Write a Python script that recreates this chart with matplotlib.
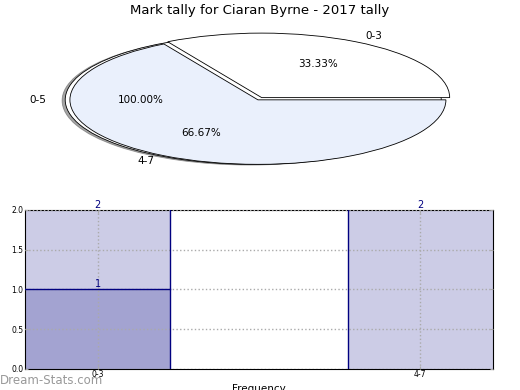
import numpy as np
import matplotlib
matplotlib.use('Agg')
import matplotlib.pyplot as plt

# data
title = 'Mark tally for Ciaran Byrne - 2017 tally'
back_labels = ['0-5']
back_values = [1]
pie_labels = ['0-3', '4-7']
pie_values = [1, 2]
bar_cats = ['0-3', '4-7']
bar_totals = [2, 2]
bar_counts = [1, 0]

fig = plt.figure(figsize=(5.2, 3.9), dpi=100)

# pie (squashed ellipse)
ax1 = fig.add_axes([0.026, 0.529, 0.94, 0.43])
ax1.pie(back_values, labels=back_labels, autopct='%.2f%%', colors=['white'],
        shadow=dict(ox=-0.012, oy=-0.008), startangle=0, center=(-0.025, 0),
        wedgeprops=dict(edgecolor='black', linewidth=0.6),
        textprops=dict(fontsize=7.5))
ax1.pie(pie_values, labels=pie_labels, autopct='%.2f%%', explode=[0.04, 0],
        colors=['white', '#eaf0fc'], startangle=0,
        wedgeprops=dict(edgecolor='black', linewidth=0.6),
        textprops=dict(fontsize=7.5))
ax1.set_aspect('auto')
ax1.set_xlim(-1.3, 1.3)
ax1.set_ylim(-1.3, 1.3)
ax1.axis('off')
fig.text(0.5, 0.973, title, ha='center', va='center', fontsize=9.5)

# bars
ax2 = fig.add_axes([0.048, 0.054, 0.9, 0.408])
x = np.arange(len(bar_cats))
ax2.bar(x, bar_totals, width=0.45, color='#ccccE6', edgecolor='none', zorder=1)
ax2.bar(x, bar_counts, width=0.45, color='#a3a3d1', edgecolor='none', zorder=2)
for xi, t, c in zip(x, bar_totals, bar_counts):
    ax2.text(xi, t, str(t), ha='center', va='bottom', color='#000080', fontsize=7)
    if c > 0:
        ax2.text(xi, c, str(c), ha='center', va='bottom', color='#000080', fontsize=7)
# navy outlines on the inner edges
ax2.plot([0.225, 0.225], [0, 2], color='#000080', lw=1, zorder=3)
ax2.plot([-0.225, 0.225], [1, 1], color='#000080', lw=1, zorder=3)
ax2.plot([0.775, 0.775], [0, 2], color='#000080', lw=1, zorder=3)
ax2.set_xlim(-0.225, 1.225)
ax2.set_ylim(0, 2)
ax2.set_xticks(x)
ax2.set_xticklabels(bar_cats)
ax2.set_yticks([0, 0.5, 1.0, 1.5, 2.0])
ax2.set_yticklabels(['0.0', '0.5', '1.0', '1.5', '2.0'])
ax2.tick_params(labelsize=5.5, length=2, color='#aaaaaa', pad=1,
                right=True, top=True, direction='in')
ax2.grid(True, linestyle=':', color='#aaaaaa', linewidth=1, zorder=2.5)
ax2.set_axisbelow(False)
ax2.set_ylabel('Stat Intervals', fontsize=7.5)
ax2.yaxis.set_label_coords(-0.047, 0.5)
ax2.set_xlabel('Frequency', fontsize=7.5)
ax2.xaxis.set_label_coords(0.5, -0.094)
fig.text(0.0, 0.025, 'Dream-Stats.com', ha='left', va='center', fontsize=8.5,
         color='#999999')

fig.savefig('out.png', dpi=100)
